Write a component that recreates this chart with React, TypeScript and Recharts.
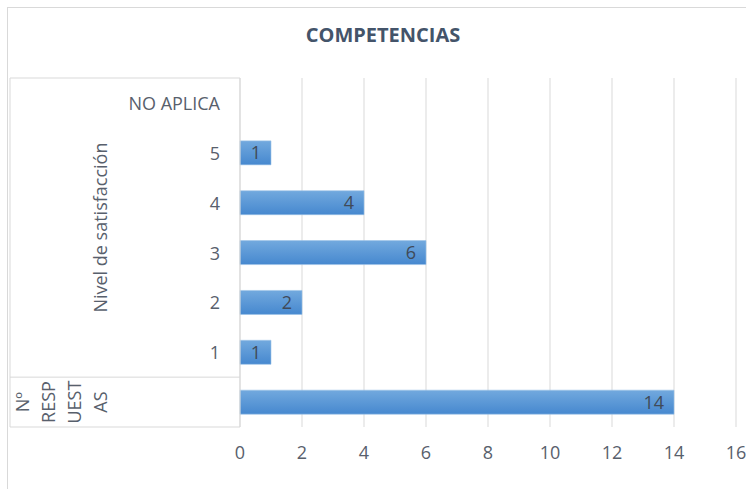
import { BarChart, Bar, XAxis, YAxis, CartesianGrid, LabelList } from "recharts";

const categories = ["NO APLICA", "5", "4", "3", "2", "1", ""];
const values = [0, 1, 4, 6, 2, 1, 14];
const groups = [
  { lines: ["Nivel de satisfacción"], count: 6 },
  { lines: ["Nº", "RESP", "UEST", "AS"], count: 1 },
];
const xTicks = [0, 2, 4, 6, 8, 10, 12, 14, 16];

const data = categories.map((c, i) => ({ cat: c, value: values[i] }));

const W = 746;
const H = 489;
const margin = { top: 78, right: 10, bottom: 22, left: 0 };
const xAxisH = 40;
const plotH = H - margin.top - margin.bottom - xAxisH;
const step = plotH / categories.length;

const font = "'Open Sans', sans-serif";
const textColor = "#58606c";
const lineColor = "#d9d9d9";

// group starts, for drawing the multi-level category axis
const groupStarts: Record<number, { lines: string[]; count: number }> = {};
{
  let s = 0;
  groups.forEach((g) => {
    groupStarts[s] = g;
    s += g.count;
  });
}

const CategoryTick = (props: any) => {
  const { y, payload, index } = props;
  const i = payload?.index ?? index;
  const top = y - step / 2;
  const g = groupStarts[i];
  return (
    <g>
      <text
        x={220}
        y={y}
        textAnchor="end"
        dominantBaseline="central"
        fill={textColor}
        fontSize={18}
        fontFamily={font}
      >
        {payload.value}
      </text>
      {i === 0 && (
        <line x1={10} x2={10} y1={top} y2={top + categories.length * step} stroke={lineColor} />
      )}
      {i === categories.length - 1 && (
        <line x1={10} x2={240} y1={y + step / 2} y2={y + step / 2} stroke={lineColor} />
      )}
      {g && (
        <g>
          <line x1={10} x2={240} y1={top} y2={top} stroke={lineColor} />
          {g.lines.map((ln, k) => {
            const cx = 100 - (g.lines.length - 1 - k) * 26;
            const cy = top + (g.count * step) / 2;
            return (
              <text
                key={k}
                x={cx}
                y={cy}
                transform={`rotate(-90, ${cx}, ${cy})`}
                textAnchor="middle"
                dominantBaseline="central"
                fill={textColor}
                fontSize={18}
                fontFamily={font}
              >
                {ln}
              </text>
            );
          })}
        </g>
      )}
    </g>
  );
};

export default function App() {
  return (
    <div style={{ position: "relative", width: W, height: H, background: "#fff" }}>
      <style>{`body{margin:0;overflow:hidden}`}</style>
      <div
        style={{
          position: "absolute",
          left: 7,
          top: 7,
          width: 800,
          height: 600,
          border: `1px solid ${lineColor}`,
        }}
      />
      <div
        style={{
          position: "absolute",
          left: 0,
          width: 766,
          top: 21,
          textAlign: "center",
          fontFamily: font,
          fontWeight: 700,
          fontSize: 20,
          color: "#44546a",
        }}
      >
        COMPETENCIAS
      </div>
      <div style={{ position: "absolute", left: 0, top: 0 }}>
        <BarChart width={W} height={H} data={data} layout="vertical" margin={margin}>
          <defs>
            <linearGradient id="barFill" x1="0" y1="0" x2="0" y2="1">
              <stop offset="0%" stopColor="#72a9de" />
              <stop offset="100%" stopColor="#4688cf" />
            </linearGradient>
          </defs>
          <CartesianGrid vertical horizontal={false} stroke={lineColor} />
          <XAxis
            type="number"
            domain={[0, 16]}
            ticks={xTicks}
            height={xAxisH}
            axisLine={false}
            tickLine={false}
            tickSize={0}
            tickMargin={19}
            tick={{ fill: textColor, fontSize: 18, fontFamily: font }}
          />
          <YAxis
            type="category"
            dataKey="cat"
            width={240}
            axisLine={{ stroke: lineColor }}
            tickLine={false}
            interval={0}
            tick={<CategoryTick />}
          />
          <Bar
            dataKey="value"
            barSize={24}
            fill="url(#barFill)"
            stroke="#9cc2e8"
            strokeWidth={0.6}
            isAnimationActive={false}
          >
            <LabelList
              dataKey="value"
              position="insideRight"
              offset={10}
              fill="#404a58"
              fontSize={18}
              fontFamily={font}
              formatter={(v: any) => (v ? v : "")}
            />
          </Bar>
        </BarChart>
      </div>
    </div>
  );
}
